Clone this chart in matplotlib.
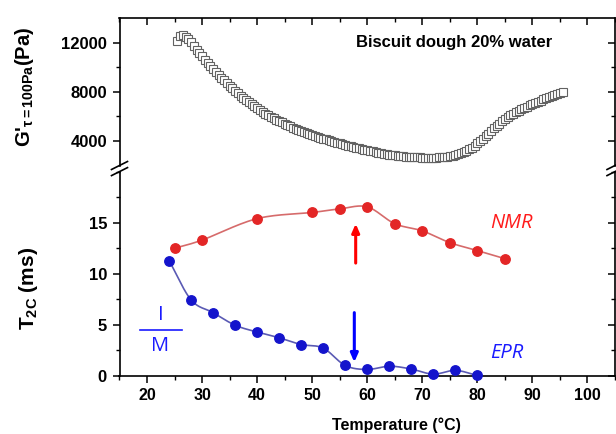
import numpy as np
import matplotlib
matplotlib.use("Agg")
import matplotlib.pyplot as plt
from matplotlib.lines import Line2D
from matplotlib.ticker import MultipleLocator, FixedLocator

plt.rcParams['font.family'] = ['Liberation Sans', 'DejaVu Sans']
plt.rcParams['mathtext.fontset'] = 'custom'
plt.rcParams['mathtext.rm'] = 'Liberation Sans'
plt.rcParams['mathtext.bf'] = 'Liberation Sans:bold'
plt.rcParams['mathtext.it'] = 'Liberation Sans:italic'

# ---------------- data ----------------
# Rheology (top panel): G' at tau = 100 Pa vs temperature (0.5 degC steps from 25.5)
g_temp = [25.5 + 0.5 * i for i in range(141)]
g_mod = [12130, 12560, 12600, 12480, 12280, 12020, 11720, 11420, 11140, 10870,
         10600, 10340, 10090, 9840, 9600, 9370, 9140, 8920, 8700, 8490,
         8280, 8080, 7880, 7690, 7500, 7320, 7140, 6970, 6810, 6650,
         6500, 6360, 6220, 6090, 5960, 5840, 5720, 5610, 5500, 5390,
         5290, 5190, 5090, 5000, 4910, 4820, 4730, 4650, 4570, 4490,
         4410, 4330, 4260, 4190, 4120, 4050, 3980, 3910, 3850, 3790,
         3730, 3670, 3610, 3550, 3500, 3440, 3390, 3340, 3290, 3240,
         3190, 3140, 3100, 3050, 3010, 2970, 2930, 2890, 2860, 2830,
         2800, 2770, 2750, 2730, 2710, 2690, 2680, 2670, 2660, 2650,
         2650, 2640, 2640, 2640, 2650, 2660, 2670, 2690, 2720, 2750,
         2790, 2840, 2900, 2980, 3070, 3180, 3310, 3450, 3610, 3790,
         3980, 4180, 4390, 4600, 4810, 5020, 5220, 5410, 5590, 5760,
         5920, 6070, 6210, 6340, 6460, 6580, 6690, 6800, 6900, 7000,
         7100, 7190, 7280, 7370, 7460, 7540, 7620, 7700, 7780, 7860,
         7970]

# NMR T2C (ms)
nmr_temp = [25, 30, 40, 50, 55, 60, 65, 70, 75, 80, 85]
nmr_t2c = [12.5, 13.3, 15.4, 16.0, 16.35, 16.55, 14.9, 14.2, 13.05, 12.27, 11.48]

# EPR I/M
epr_temp = [24, 28, 32, 36, 40, 44, 48, 52, 56, 60, 64, 68, 72, 76, 80]
epr_im = [11.3, 7.45, 6.2, 4.97, 4.3, 3.74, 3.08, 2.73, 1.03, 0.64, 0.96, 0.68, 0.18, 0.55, 0.05]

x_ticks = [20, 30, 40, 50, 60, 70, 80, 90, 100]
g_ticks = [4000, 8000, 12000]
t_ticks = [0, 5, 10, 15]


def smooth(xs, ys, n=24):
    P = np.column_stack([np.asarray(xs, float), np.asarray(ys, float)])
    P = np.vstack([2 * P[0] - P[1], P, 2 * P[-1] - P[-2]])
    t = np.linspace(0, 1, n, endpoint=False)[:, None]
    out = []
    for i in range(1, len(P) - 2):
        p0, p1, p2, p3 = P[i - 1], P[i], P[i + 1], P[i + 2]
        seg = 0.5 * (2 * p1 + (-p0 + p2) * t + (2 * p0 - 5 * p1 + 4 * p2 - p3) * t ** 2
                     + (-p0 + 3 * p1 - 3 * p2 + p3) * t ** 3)
        out.append(seg)
    out.append(P[-2][None, :])
    c = np.vstack(out)
    return c[:, 0], c[:, 1]


W, H = 616, 434
fig = plt.figure(figsize=(W / 100, H / 100), dpi=100)

L, R = 119.5, 615.0
top_y0, top_y1 = 18, 165.5
bot_y0, bot_y1 = 171.6, 376

ax1 = fig.add_axes([L / W, 1 - top_y1 / H, (R - L) / W, (top_y1 - top_y0) / H])
ax2 = fig.add_axes([L / W, 1 - bot_y1 / H, (R - L) / W, (bot_y1 - bot_y0) / H])

for ax in (ax1, ax2):
    ax.set_xlim(15, 105)
    for s in ax.spines.values():
        s.set_linewidth(1.2)
    ax.xaxis.set_major_locator(FixedLocator(x_ticks))
    ax.xaxis.set_minor_locator(MultipleLocator(5))

# ---- top panel ----
ax1.set_ylim(2000, 14000)
ax1.spines['bottom'].set_visible(False)
ax1.yaxis.set_major_locator(FixedLocator(g_ticks))
ax1.yaxis.set_minor_locator(FixedLocator([6000, 10000]))
ax1.tick_params(axis='x', which='both', bottom=False, labelbottom=False, top=True,
                direction='in')
ax1.tick_params(axis='x', which='major', length=5, width=1.1)
ax1.tick_params(axis='x', which='minor', length=3, width=1.0)
ax1.plot(g_temp, g_mod, linestyle='none', marker='s', markersize=5.2,
         markerfacecolor='white', markeredgecolor='#626262', markeredgewidth=0.8)
fig.text(356 / W, 1 - 42.7 / H, 'Biscuit dough 20% water', fontsize=12,
         fontweight='bold', ha='left', va='center')

# ---- bottom panel ----
ax2.set_ylim(0, 20)
ax2.spines['top'].set_visible(False)
ax2.yaxis.set_major_locator(FixedLocator(t_ticks))
ax2.yaxis.set_minor_locator(MultipleLocator(2.5))
ax2.tick_params(axis='x', which='both', bottom=True, top=False, direction='out')
ax2.tick_params(axis='x', which='major', length=5, width=1.1, pad=4)
ax2.tick_params(axis='x', which='minor', length=3, width=1.0)

for ax in (ax1, ax2):
    ax.tick_params(axis='y', which='both', left=True, right=True, direction='out')
    ax.tick_params(axis='y', which='major', length=5, width=1.1, pad=4)
    ax.tick_params(axis='y', which='minor', length=3, width=1.0)
    for lab in ax.get_xticklabels() + ax.get_yticklabels():
        lab.set_fontweight('bold')
        lab.set_fontsize(12)
# right side ticks inward
for ax in (ax1, ax2):
    for t in ax.yaxis.get_major_ticks() + ax.yaxis.get_minor_ticks():
        t.tick2line.set_marker(matplotlib.lines.TICKLEFT)
for t in ax2.xaxis.get_major_ticks():
    t.label1.set_fontsize(11.5)

sx, sy = smooth(nmr_temp, nmr_t2c)
ax2.plot(sx, sy, color='#d66b6b', linewidth=1.2, zorder=2)
ax2.plot(nmr_temp, nmr_t2c, linestyle='none', marker='o', markersize=6.8,
         color='#e32626', zorder=3)
sx, sy = smooth(epr_temp, epr_im)
ax2.plot(sx, sy, color='#5a5ab4', linewidth=1.2, zorder=2)
ax2.plot(epr_temp, epr_im, linestyle='none', marker='o', markersize=6.8,
         color='#1414cc', zorder=3, clip_on=False)

ax2.annotate('', xy=(57.9, 14.9), xytext=(57.9, 11.05),
             arrowprops=dict(arrowstyle='-|>,head_length=0.5,head_width=0.22',
                             color='#ff0000', lw=2.2, shrinkA=0, shrinkB=0))
ax2.annotate('', xy=(57.65, 1.35), xytext=(57.65, 6.2),
             arrowprops=dict(arrowstyle='-|>,head_length=0.5,head_width=0.22',
                             color='#0000ff', lw=2.2, shrinkA=0, shrinkB=0))

ax2.text(86.2, 14.95, 'NMR', color='#ff1a1a', fontsize=14.5, fontstyle='italic',
         family=['Open Sans', 'DejaVu Sans'], ha='center', va='center')
ax2.text(85.4, 2.25, 'EPR', color='#1a1aff', fontsize=14.5, fontstyle='italic',
         family=['Open Sans', 'DejaVu Sans'], ha='center', va='center')
ax2.text(22.5, 5.95, 'I', color='#1a1aff', fontsize=14.5,
         family=['Open Sans', 'DejaVu Sans'], ha='center', va='center')
ax2.text(22.4, 2.95, 'M', color='#1a1aff', fontsize=14.5,
         family=['Open Sans', 'DejaVu Sans'], ha='center', va='center')
ax2.plot([18.8, 26.3], [4.5, 4.5], color='#1a1aff', linewidth=1.2, clip_on=False)

# axis labels
fig.text(24 / W, 1 - 86.5 / H, r"$\mathbf{G}$'$_{\mathbf{\tau=100Pa}}$$\mathbf{(Pa)}$",
         rotation=90, ha='center', va='center', fontsize=14.5, fontweight='bold')
fig.text(28 / W, 1 - 288 / H, r"$\mathbf{T_{2C}}$ $\mathbf{(ms)}$", rotation=90,
         ha='center', va='center', fontsize=15, fontweight='bold')
fig.text(396 / W, 1 - 425 / H, 'Temperature (°C)', ha='center', va='center',
         fontsize=11.5, fontweight='bold')

# axis break marks
for xb in (L, R):
    for yb in (top_y1, bot_y0):
        fig.add_artist(Line2D([(xb - 8) / W, (xb + 8) / W],
                              [1 - (yb + 4) / H, 1 - (yb - 4) / H],
                              color='black', linewidth=1.2))

fig.savefig('out.png', dpi=100)
